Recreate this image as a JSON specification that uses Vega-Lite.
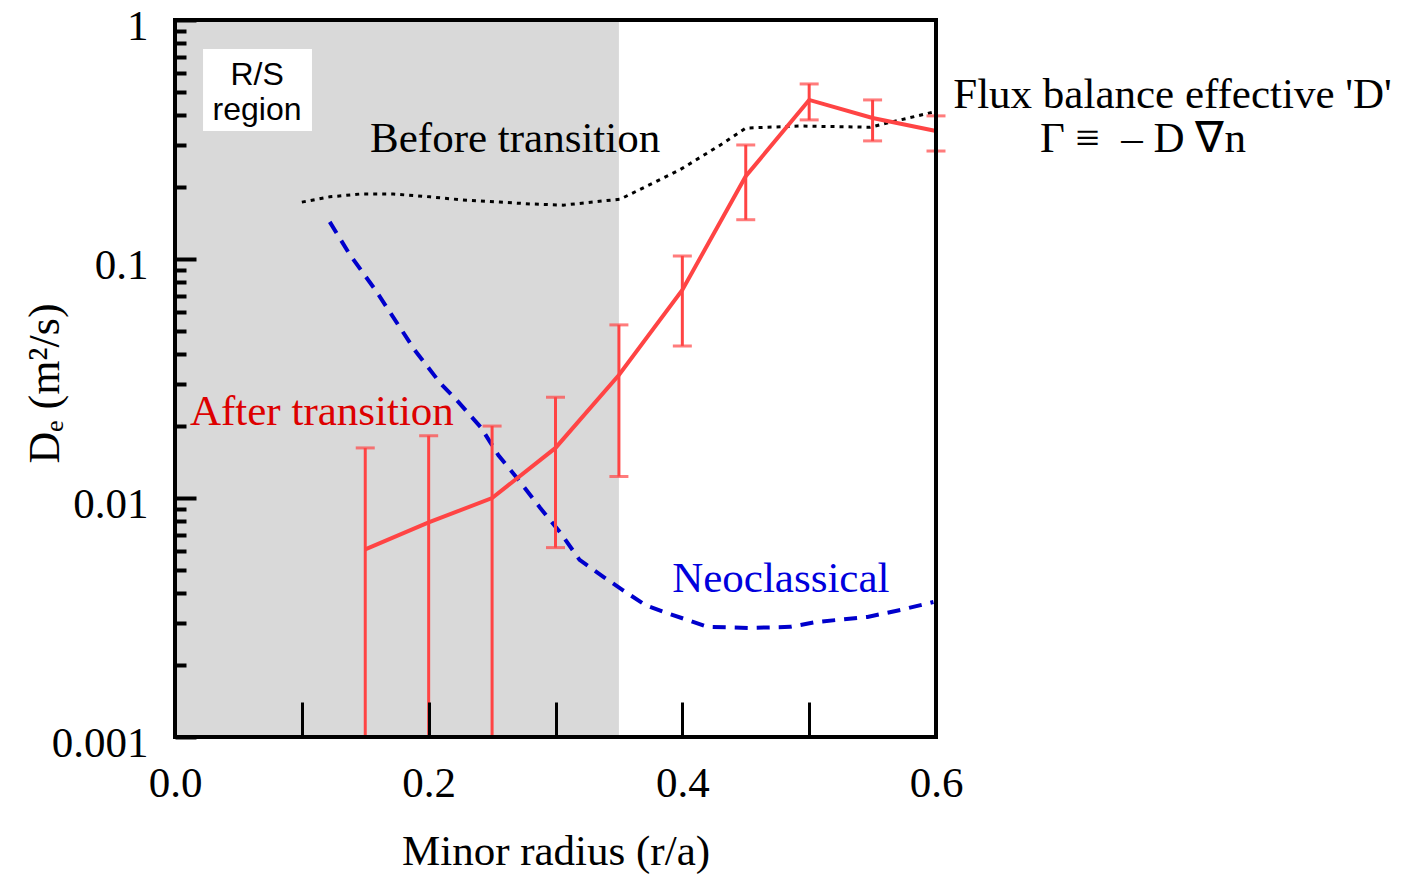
{
  "$schema": "https://vega.github.io/schema/vega-lite/v6.json",
  "autosize": {"type": "none"},
  "padding": {"left": 175, "top": 20, "right": 477, "bottom": 139},
  "width": 761,
  "height": 717,
  "background": "white",
  "config": {"view": {"stroke": null}},
  "datasets": {
    "after": [
      {"r": 0.15, "D": 0.0061, "lo": 0.001, "hi": 0.0162},
      {"r": 0.2, "D": 0.0079, "lo": 0.001, "hi": 0.0182},
      {"r": 0.25, "D": 0.0100, "lo": 0.001, "hi": 0.0200},
      {"r": 0.3, "D": 0.0162, "lo": 0.0062, "hi": 0.0264},
      {"r": 0.35, "D": 0.0327, "lo": 0.0123, "hi": 0.053},
      {"r": 0.4, "D": 0.0742, "lo": 0.0433, "hi": 0.103},
      {"r": 0.45, "D": 0.222, "lo": 0.146, "hi": 0.300},
      {"r": 0.5, "D": 0.463, "lo": 0.382, "hi": 0.540},
      {"r": 0.55, "D": 0.389, "lo": 0.312, "hi": 0.463},
      {"r": 0.6, "D": 0.343, "lo": 0.283, "hi": 0.397}
    ],
    "before": [
      {"r": 0.1, "D": 0.173},
      {"r": 0.122, "D": 0.182},
      {"r": 0.146, "D": 0.187},
      {"r": 0.172, "D": 0.187},
      {"r": 0.201, "D": 0.182},
      {"r": 0.225, "D": 0.177},
      {"r": 0.256, "D": 0.173},
      {"r": 0.28, "D": 0.170},
      {"r": 0.306, "D": 0.168},
      {"r": 0.351, "D": 0.178},
      {"r": 0.398, "D": 0.236},
      {"r": 0.43, "D": 0.300},
      {"r": 0.45, "D": 0.353},
      {"r": 0.493, "D": 0.360},
      {"r": 0.548, "D": 0.356},
      {"r": 0.572, "D": 0.382},
      {"r": 0.598, "D": 0.412}
    ],
    "neo": [
      {"r": 0.122, "D": 0.143},
      {"r": 0.138, "D": 0.104},
      {"r": 0.158, "D": 0.0742},
      {"r": 0.189, "D": 0.0416},
      {"r": 0.209, "D": 0.0303},
      {"r": 0.222, "D": 0.0257},
      {"r": 0.241, "D": 0.0198},
      {"r": 0.255, "D": 0.0151},
      {"r": 0.272, "D": 0.0117},
      {"r": 0.288, "D": 0.00908},
      {"r": 0.304, "D": 0.00714},
      {"r": 0.319, "D": 0.00551},
      {"r": 0.338, "D": 0.00467},
      {"r": 0.353, "D": 0.00412},
      {"r": 0.371, "D": 0.00356},
      {"r": 0.388, "D": 0.0033},
      {"r": 0.42, "D": 0.00289},
      {"r": 0.453, "D": 0.00286},
      {"r": 0.485, "D": 0.00289},
      {"r": 0.506, "D": 0.00303},
      {"r": 0.546, "D": 0.00318},
      {"r": 0.572, "D": 0.0034},
      {"r": 0.598, "D": 0.00367}
    ]
  },
  "layer": [
    {
      "data": {"values": [{"x0": 0, "x1": 0.35}]},
      "mark": {"type": "rect", "color": "#d9d9d9"},
      "encoding": {
        "x": {"field": "x0", "type": "quantitative",
          "scale": {"domain": [0, 0.6], "nice": false, "zero": false},
          "axis": {
            "orient": "bottom",
            "values": [0, 0.1, 0.2, 0.3, 0.4, 0.5, 0.6],
            "format": ".1f",
            "labelExpr": "round(datum.value*10) % 2 == 0 ? datum.label : ''",
            "domain": false, "grid": false,
            "tickSize": -35, "tickWidth": 3, "tickColor": "black",
            "labelFont": "Liberation Serif", "labelFontSize": 43, "labelColor": "black",
            "labelPadding": 60, "labelFlush": false, "labelOverlap": false,
            "title": "Minor radius (r/a)",
            "titleFont": "Liberation Serif", "titleFontSize": 43, "titleFontWeight": "normal",
            "titleColor": "black", "titlePadding": 25, "zindex": 1
          }},
        "x2": {"field": "x1"}
      }
    },
    {
      "data": {"values": [{"x0": 0.0221, "x1": 0.108, "y0": 0.343, "y1": 0.756}]},
      "mark": {"type": "rect", "color": "white"},
      "encoding": {
        "x": {"field": "x0", "type": "quantitative", "axis": null},
        "x2": {"field": "x1"},
        "y": {"field": "y0", "type": "quantitative", "scale": {"type": "log", "domain": [0.001, 1]}, "axis": null},
        "y2": {"field": "y1"}
      }
    },
    {
      "data": {"name": "before"},
      "mark": {"type": "line", "color": "black", "strokeWidth": 3, "strokeDash": [4, 5]},
      "encoding": {
        "x": {"field": "r", "type": "quantitative", "axis": null},
        "y": {"field": "D", "type": "quantitative", "scale": {"type": "log", "domain": [0.001, 1]},
          "axis": {
            "orient": "left",
            "values": [0.002, 0.003, 0.004, 0.005, 0.006, 0.007, 0.008, 0.009, 0.02, 0.03, 0.04, 0.05, 0.06, 0.07, 0.08, 0.09, 0.2, 0.3, 0.4, 0.5, 0.6, 0.7, 0.8, 0.9],
            "labels": false, "title": null, "domain": false, "grid": false,
            "tickSize": -11, "tickWidth": 4, "tickColor": "black", "zindex": 1
          }}
      }
    },
    {
      "data": {"name": "neo"},
      "mark": {"type": "line", "color": "#0000cc", "strokeWidth": 4, "strokeDash": [13, 9]},
      "encoding": {
        "x": {"field": "r", "type": "quantitative", "axis": null},
        "y": {"field": "D", "type": "quantitative", "scale": {"type": "log", "domain": [0.001, 1]},
          "axis": {
            "orient": "left",
            "values": [0.001, 0.01, 0.1, 1],
            "format": "~g",
            "domain": false, "grid": false,
            "tickSize": -21, "tickWidth": 4, "tickColor": "black",
            "labelFont": "Liberation Serif", "labelFontSize": 43, "labelColor": "black",
            "labelPadding": 48, "labelOffset": 6, "labelOverlap": false, "labelFlush": false,
            "title": "Dₑ (m²/s)",
            "titleFont": "Liberation Serif", "titleFontSize": 44, "titleFontWeight": "normal",
            "titleColor": "black", "titleX": -117, "titleY": 363, "titleAngle": 270,
            "titleAlign": "center", "titleBaseline": "alphabetic", "zindex": 1
          }}
      }
    },
    {
      "data": {"name": "after"},
      "mark": {"type": "rule", "color": "#ff4444", "strokeWidth": 3},
      "encoding": {
        "x": {"field": "r", "type": "quantitative", "axis": null},
        "y": {"field": "lo", "type": "quantitative", "scale": {"type": "log", "domain": [0.001, 1]}, "axis": null},
        "y2": {"field": "hi"}
      }
    },
    {
      "data": {"name": "after"},
      "mark": {"type": "tick", "color": "#ff4444", "orient": "horizontal", "size": 19, "thickness": 3},
      "encoding": {
        "x": {"field": "r", "type": "quantitative", "axis": null},
        "y": {"field": "hi", "type": "quantitative", "scale": {"type": "log", "domain": [0.001, 1]}, "axis": null}
      }
    },
    {
      "data": {"name": "after"},
      "transform": [{"filter": "datum.lo > 0.001"}],
      "mark": {"type": "tick", "color": "#ff4444", "orient": "horizontal", "size": 19, "thickness": 3},
      "encoding": {
        "x": {"field": "r", "type": "quantitative", "axis": null},
        "y": {"field": "lo", "type": "quantitative", "scale": {"type": "log", "domain": [0.001, 1]}, "axis": null}
      }
    },
    {
      "data": {"name": "after"},
      "mark": {"type": "line", "color": "#ff4444", "strokeWidth": 4},
      "encoding": {
        "x": {"field": "r", "type": "quantitative", "axis": null},
        "y": {"field": "D", "type": "quantitative", "scale": {"type": "log", "domain": [0.001, 1]}, "axis": null}
      }
    },
    {
      "data": {"values": [
        {"x": 0.1538, "y": 0.280, "label": "Before transition"},
        {"x": 0.6136, "y": 0.430, "label": "Flux balance effective 'D'"},
        {"x": 0.682, "y": 0.280, "label": "Γ ≡\u00a0\u00a0– D ∇n"}
      ]},
      "mark": {"type": "text", "font": "Liberation Serif", "fontSize": 43, "color": "black", "align": "left", "baseline": "alphabetic"},
      "encoding": {
        "x": {"field": "x", "type": "quantitative", "axis": null},
        "y": {"field": "y", "type": "quantitative", "scale": {"type": "log", "domain": [0.001, 1]}, "axis": null},
        "text": {"field": "label"}
      }
    },
    {
      "data": {"values": [{"x": 0.0118, "y": 0.0202, "label": "After transition"}]},
      "mark": {"type": "text", "font": "Liberation Serif", "fontSize": 43, "color": "#dd0000", "align": "left", "baseline": "alphabetic"},
      "encoding": {
        "x": {"field": "x", "type": "quantitative", "axis": null},
        "y": {"field": "y", "type": "quantitative", "scale": {"type": "log", "domain": [0.001, 1]}, "axis": null},
        "text": {"field": "label"}
      }
    },
    {
      "data": {"values": [{"x": 0.392, "y": 0.00404, "label": "Neoclassical"}]},
      "mark": {"type": "text", "font": "Liberation Serif", "fontSize": 43, "color": "#0000dd", "align": "left", "baseline": "alphabetic"},
      "encoding": {
        "x": {"field": "x", "type": "quantitative", "axis": null},
        "y": {"field": "y", "type": "quantitative", "scale": {"type": "log", "domain": [0.001, 1]}, "axis": null},
        "text": {"field": "label"}
      }
    },
    {
      "data": {"values": [
        {"x": 0.0647, "y": 0.535, "label": "R/S"},
        {"x": 0.0647, "y": 0.382, "label": "region"}
      ]},
      "mark": {"type": "text", "font": "Liberation Sans", "fontSize": 32, "color": "black", "align": "center", "baseline": "alphabetic"},
      "encoding": {
        "x": {"field": "x", "type": "quantitative", "axis": null},
        "y": {"field": "y", "type": "quantitative", "scale": {"type": "log", "domain": [0.001, 1]}, "axis": null},
        "text": {"field": "label"}
      }
    },
    {
      "data": {"values": [{"frame": 1}]},
      "mark": {"type": "rect", "fill": null, "fillOpacity": 0, "stroke": "black", "strokeWidth": 4},
      "encoding": {}
    }
  ],
  "resolve": {"axis": {"x": "independent", "y": "independent"}}
}
